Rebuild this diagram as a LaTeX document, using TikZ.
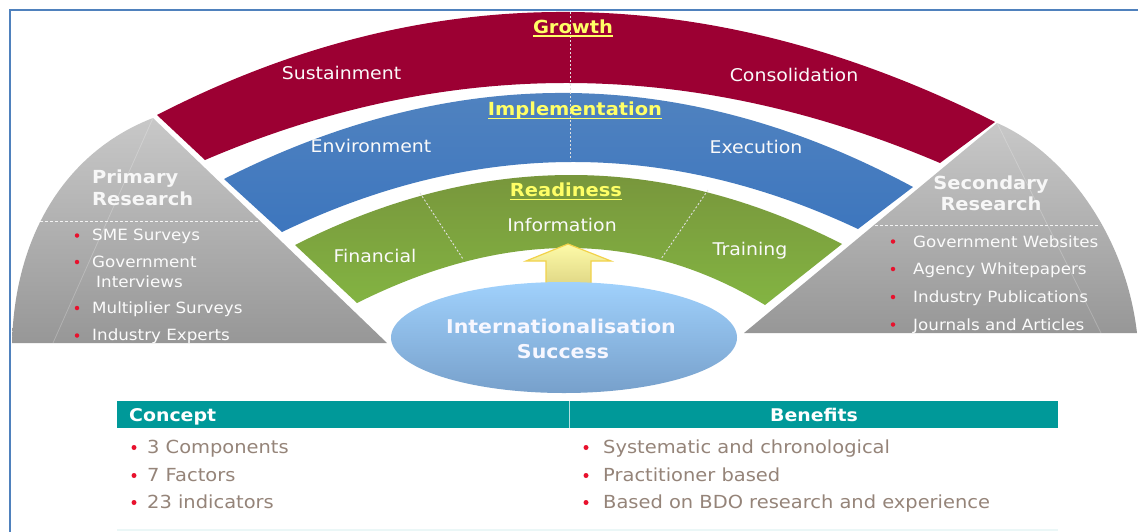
\documentclass[tikz,border=0pt]{standalone}
\usepackage{fontspec}
\setmainfont{DejaVu Sans}[FakeStretch=1.08]
\usetikzlibrary{calc,shapes.geometric}
\definecolor{bandred}{HTML}{9C0033}
\definecolor{bluetop}{HTML}{5485C0}
\definecolor{bluebot}{HTML}{3D76BE}
\definecolor{greentop}{HTML}{76913B}
\definecolor{greenbot}{HTML}{83B442}
\definecolor{graytop}{HTML}{C8C8C8}
\definecolor{graybot}{HTML}{979797}
\definecolor{hdyellow}{HTML}{FFFF66}
\definecolor{frameblue}{HTML}{4F81BD}
\definecolor{hdteal}{HTML}{009999}
\definecolor{itemtext}{HTML}{958479}
\definecolor{bulletred}{HTML}{E8112D}
\definecolor{elltop}{HTML}{A0D1FC}
\definecolor{ellbot}{HTML}{77A0CB}
\definecolor{arrowtop}{HTML}{FDFAA8}
\definecolor{arrowbot}{HTML}{D8CE7C}
\definecolor{arrowline}{HTML}{F2D24A}
\begin{document}
\begin{tikzpicture}[x=1pt,y=-1pt,
  lbl/.style={text=white!96!gray, font=\fontsize{17.5}{21}\selectfont, anchor=base, inner sep=0},
  hd/.style={text=hdyellow, font=\bfseries\fontsize{18}{21}\selectfont, anchor=base, inner sep=0},
  sect/.style={text=white!94!gray, font=\bfseries\fontsize{18}{21}\selectfont, anchor=base west, inner sep=0},
  item/.style={text=white!97!gray, font=\fontsize{15.5}{18}\selectfont, anchor=base west, inner sep=0},
  bul/.style={circle, fill=bulletred, inner sep=0, minimum size=4.5pt},
  tbul/.style={circle, fill=bulletred, inner sep=0, minimum size=5pt},
  tab/.style={text=itemtext, font=\fontsize{18}{21}\selectfont, anchor=base west, inner sep=0},
  thd/.style={text=white, font=\bfseries\fontsize{17.5}{21}\selectfont, anchor=base, inner sep=0},
  ell/.style={text=white!97!blue, font=\bfseries\fontsize{19}{22}\selectfont, anchor=base, inner sep=0},
  uline/.style={hdyellow, line width=1.5pt},
  wdash/.style={white!88!black, dash pattern=on 2pt off 2pt, line width=0.9pt},
  gdash/.style={white, opacity=0.85, dash pattern=on 3pt off 2pt, line width=1pt},
  faint/.style={white, opacity=0.22, line width=0.8pt}]
\clip (0,0) rectangle (1138,531);
\fill[white] (0,0) rectangle (1138,531);
\draw[frameblue, line width=2pt] (10,10) rectangle (1170,570);

% ---- red band (Growth)
\coordinate (RoL) at (157,115); \coordinate (RoQ) at (564,-94.5); \coordinate (RoR) at (995,122);
\coordinate (RiL) at (205,160); \coordinate (RiQ) at (567.5,4.5); \coordinate (RiR) at (940,163);
\fill[bandred] (RoL) .. controls ($(RoL)!0.6667!(RoQ)$) and ($(RoR)!0.6667!(RoQ)$) .. (RoR)
  -- (RiR) .. controls ($(RiR)!0.6667!(RiQ)$) and ($(RiL)!0.6667!(RiQ)$) .. (RiL) -- cycle;

% ---- blue band (Implementation)
\coordinate (BoL) at (224,179); \coordinate (BoQ) at (571.5,3); \coordinate (BoR) at (913,187);
\coordinate (BiL) at (282,232); \coordinate (BiQ) at (570,93.5); \coordinate (BiR) at (858,229);
\path[top color=bluetop, bottom color=bluebot] (BoL) .. controls ($(BoL)!0.6667!(BoQ)$) and ($(BoR)!0.6667!(BoQ)$) .. (BoR)
  -- (BiR) .. controls ($(BiR)!0.6667!(BiQ)$) and ($(BiL)!0.6667!(BiQ)$) .. (BiL) -- cycle;

% ---- green band (Readiness)
\coordinate (GoL) at (295,245); \coordinate (GoQ) at (571.5,105.5); \coordinate (GoR) at (842,244);
\coordinate (GiL) at (357,303); \coordinate (GiQ) at (579,192); \coordinate (GiR) at (765,305);
\path[top color=greentop, bottom color=greenbot] (GoL) .. controls ($(GoL)!0.6667!(GoQ)$) and ($(GoR)!0.6667!(GoQ)$) .. (GoR)
  -- (GiR) .. controls ($(GiR)!0.6667!(GiQ)$) and ($(GiL)!0.6667!(GiQ)$) .. (GiL) -- cycle;

% ---- dashed dividers
\coordinate (vt) at (570,12); \coordinate (vb) at (570,160);
\draw[wdash] (vt) -- (vb);
\coordinate (gl1) at (420,193); \coordinate (gl2) at (463,259);
\coordinate (gr1) at (708,190); \coordinate (gr2) at (661,259);
\draw[wdash] (gl1) -- (gl2);
\draw[wdash] (gr1) -- (gr2);

% ---- band labels
\node[hd] (growth) at (573,33) {Growth};
\draw[uline] ($(growth.base west)+(0,3)$) -- ($(growth.base east)+(0,3)$);
\node[lbl] (sust) at (341.5,79) {Sustainment};
\node[lbl] (cons) at (794,81.5) {Consolidation};
\node[hd] (impl) at (575,115) {Implementation};
\draw[uline] ($(impl.base west)+(0,3.5)$) -- ($(impl.base east)+(0,3.5)$);
\node[lbl] (env) at (371,152.5) {Environment};
\node[lbl] (exec) at (756,153) {Execution};
\node[hd] (ready) at (566,196) {Readiness};
\draw[uline] ($(ready.base west)+(0,3.5)$) -- ($(ready.base east)+(0,3.5)$);
\node[lbl] (info) at (562,231.5) {Information};
\node[lbl] (fin) at (375,262.5) {Financial};
\node[lbl] (train) at (750,255) {Training};

% ---- left gray sector (Primary Research)
\coordinate (pA) at (153,118); \coordinate (pL) at (12,343); \coordinate (pR) at (387,343);
\path[top color=graytop, bottom color=graybot] (pA) .. controls (70,150) and (15,230) .. (pL) -- (pR) -- cycle;
\coordinate (pf) at (53,343);
\draw[faint] (pA) -- (pf);
\coordinate (pd1) at (40,221); \coordinate (pd2) at (258,221);
\draw[gdash] (pd1) -- (pd2);
\node[sect] (prim1) at (92,183.3) {Primary};
\node[sect] (prim2) at (92,205) {Research};
\node[bul] (pb1) at (77,235.5) {};
\node[item] (pi1) at (92,240.5) {SME Surveys};
\node[bul] (pb2) at (77,262) {};
\node[item] (pi2) at (92,267) {Government};
\node[item] (pi2b) at (96,287) {Interviews};
\node[bul] (pb3) at (77,308) {};
\node[item] (pi3) at (92,313) {Multiplier Surveys};
\node[bul] (pb4) at (77,335.5) {};
\node[item] (pi4) at (92,340.5) {Industry Experts};

% ---- right gray sector (Secondary Research)
\coordinate (sA) at (997,123); \coordinate (sR) at (1137,333); \coordinate (sL) at (744,333);
\path[top color=graytop, bottom color=graybot] (sA) .. controls (1060,150) and (1125,230) .. (sR) -- (sL) -- cycle;
\coordinate (sf) at (1101,333);
\draw[faint] (sA) -- (sf);
\coordinate (sd1) at (875,225); \coordinate (sd2) at (1100,225);
\draw[gdash] (sd1) -- (sd2);
\node[sect, anchor=base] (sec1) at (991,189.3) {Secondary};
\node[sect, anchor=base] (sec2) at (991,210.7) {Research};
\node[bul] (sb1) at (893,241.5) {};
\node[item] (si1) at (913,247) {Government Websites};
\node[bul] (sb2) at (893,269) {};
\node[item] (si2) at (913,274.5) {Agency Whitepapers};
\node[bul] (sb3) at (893,297) {};
\node[item] (si3) at (913,302.5) {Industry Publications};
\node[bul] (sb4) at (893,324.5) {};
\node[item] (si4) at (913,330) {Journals and Articles};

% ---- arrow
\path[top color=arrowtop, bottom color=arrowbot, draw=arrowline, line width=1.2pt, line join=miter]
  (568,244) -- (611,261) -- (591,261) -- (591,296) -- (546,296) -- (546,261) -- (526,261) -- cycle;

% ---- ellipse
\node[ellipse, minimum width=346pt, minimum height=111pt, inner sep=0, top color=elltop, bottom color=ellbot] (succ) at (564,337.5) {};
\node[ell] (succ1) at (561,333) {Internationalisation};
\node[ell] (succ2) at (563,358) {Success};

% ---- table
\fill[hdteal] (117,401) rectangle (1058,428);
\draw[white!70!hdteal, line width=1pt] (569,401) -- (569,428);
\draw[hdteal!8!white, line width=1.5pt] (117,530) -- (1058,530);
\node[thd, anchor=base west] (concept) at (129,421.5) {Concept};
\node[thd] (benefits) at (814,421) {Benefits};
\node[tbul] (cb1) at (134,447.5) {};
\node[tab] (c1) at (147,453) {3 Components};
\node[tbul] (cb2) at (134,475.5) {};
\node[tab] (c2) at (147,481) {7 Factors};
\node[tbul] (cb3) at (134,502.5) {};
\node[tab] (c3) at (147,508) {23 indicators};
\node[tbul] (bb1) at (586,447.5) {};
\node[tab] (b1) at (603,453) {Systematic and chronological};
\node[tbul] (bb2) at (586,475.5) {};
\node[tab] (b2) at (603,481) {Practitioner based};
\node[tbul] (bb3) at (586,502.5) {};
\node[tab] (b3) at (603,508) {Based on BDO research and experience};
\end{tikzpicture}
\end{document}
